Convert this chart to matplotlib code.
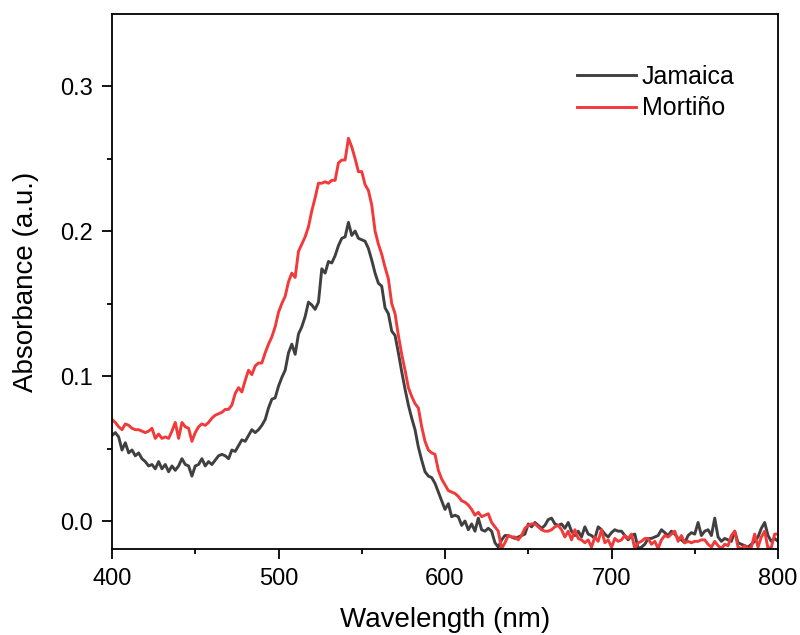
import numpy as np
import matplotlib.pyplot as plt
from matplotlib.ticker import MultipleLocator

plt.rcParams['font.family'] = ['Liberation Sans', 'DejaVu Sans']

wavelength = np.arange(400, 801, 2)

jamaica = [
    0.059, 0.061, 0.058, 0.049, 0.054, 0.047, 0.049, 0.045, 0.047, 0.043,
    0.041, 0.038, 0.039, 0.036, 0.041, 0.036, 0.039, 0.034, 0.038, 0.035,
    0.038, 0.043, 0.039, 0.038, 0.031, 0.038, 0.039, 0.043, 0.038, 0.041,
    0.039, 0.042, 0.045, 0.046, 0.045, 0.043, 0.049, 0.048, 0.052, 0.056,
    0.055, 0.059, 0.063, 0.061, 0.063, 0.066, 0.070, 0.078, 0.084, 0.085,
    0.093, 0.099, 0.104, 0.116, 0.122, 0.115, 0.129, 0.134, 0.141, 0.151,
    0.149, 0.146, 0.151, 0.174, 0.171, 0.179, 0.178, 0.183, 0.190, 0.195,
    0.196, 0.206, 0.197, 0.200, 0.195, 0.194, 0.193, 0.188, 0.180, 0.171,
    0.164, 0.162, 0.147, 0.143, 0.131, 0.128, 0.116, 0.103, 0.091, 0.080,
    0.071, 0.063, 0.051, 0.042, 0.034, 0.031, 0.030, 0.026, 0.020, 0.014,
    0.008, 0.012, 0.003, 0.004, 0.003, -0.003, 0.000, -0.006, -0.002, -0.007,
    0.002, -0.006, -0.007, -0.005, -0.007, -0.015, -0.018, -0.013, -0.010, -0.010,
    -0.011, -0.012, -0.011, -0.010, -0.009, -0.002, -0.004, -0.001, -0.003, -0.005,
    -0.003, 0.001, 0.002, -0.002, -0.003, -0.002, -0.005, -0.001, -0.007, -0.010,
    -0.007, -0.011, -0.004, -0.009, -0.010, -0.012, -0.004, -0.006, -0.009, -0.011,
    -0.008, -0.006, -0.007, -0.007, -0.010, -0.013, -0.010, -0.009, -0.019, -0.018,
    -0.016, -0.012, -0.012, -0.011, -0.010, -0.006, -0.008, -0.010, -0.007, -0.009,
    -0.012, -0.013, -0.015, -0.010, -0.008, -0.009, -0.001, -0.010, -0.007, -0.006,
    -0.010, 0.002, -0.011, -0.014, -0.012, -0.013, -0.014, -0.007, -0.015, -0.016,
    -0.017, -0.018, -0.016, -0.014, -0.011, -0.005, -0.001, -0.010, -0.014, -0.012,
    -0.014,
]

mortino = [
    0.070, 0.068, 0.065, 0.063, 0.067, 0.066, 0.064, 0.063, 0.063, 0.062,
    0.061, 0.062, 0.064, 0.057, 0.060, 0.057, 0.058, 0.057, 0.062, 0.068,
    0.057, 0.068, 0.065, 0.064, 0.055, 0.061, 0.065, 0.067, 0.066, 0.068,
    0.071, 0.073, 0.074, 0.075, 0.077, 0.077, 0.080, 0.088, 0.092, 0.089,
    0.097, 0.104, 0.101, 0.107, 0.109, 0.109, 0.116, 0.122, 0.127, 0.134,
    0.144, 0.150, 0.155, 0.165, 0.171, 0.168, 0.186, 0.191, 0.196, 0.203,
    0.214, 0.223, 0.233, 0.233, 0.234, 0.233, 0.235, 0.235, 0.247, 0.249,
    0.249, 0.264, 0.258, 0.250, 0.241, 0.241, 0.232, 0.228, 0.218, 0.200,
    0.191, 0.184, 0.175, 0.167, 0.150, 0.143, 0.128, 0.115, 0.104, 0.092,
    0.086, 0.081, 0.078, 0.065, 0.055, 0.049, 0.047, 0.046, 0.035, 0.029,
    0.025, 0.021, 0.020, 0.019, 0.017, 0.014, 0.013, 0.011, 0.008, 0.004,
    0.006, 0.003, 0.004, 0.005, -0.001, -0.004, -0.007, -0.019, -0.015, -0.010,
    -0.011, -0.011, -0.013, -0.010, -0.005, -0.003, -0.002, -0.002, -0.004, -0.006,
    -0.007, -0.007, -0.006, -0.004, -0.003, -0.006, -0.011, -0.007, -0.013, -0.006,
    -0.012, -0.013, -0.015, -0.013, -0.018, -0.011, -0.014, -0.006, -0.015, -0.013,
    -0.018, -0.012, -0.014, -0.013, -0.010, -0.012, -0.009, -0.019, -0.015, -0.014,
    -0.012, -0.012, -0.016, -0.014, -0.019, -0.013, -0.010, -0.011, -0.009, -0.007,
    -0.014, -0.010, -0.015, -0.014, -0.015, -0.014, -0.014, -0.013, -0.013, -0.016,
    -0.018, -0.014, -0.017, -0.019, -0.016, -0.017, -0.010, -0.007, -0.018, -0.019,
    -0.017, -0.019, -0.018, -0.009, -0.018, -0.011, -0.007, -0.019, -0.018, -0.009,
    -0.009,
]

fig = plt.figure(figsize=(8, 6.35), dpi=100)
ax = fig.add_axes([0.14, 0.1354, 0.8325, 0.8425])

ax.plot(wavelength, jamaica, color='#404040', lw=2.1, label='Jamaica')
ax.plot(wavelength, mortino, color='#f23a3a', lw=2.1, label='Mortiño')

ax.set_xlim(400, 800)
ax.set_ylim(-0.0193, 0.3497)
ax.xaxis.set_major_locator(MultipleLocator(100))
ax.xaxis.set_minor_locator(MultipleLocator(50))
ax.yaxis.set_major_locator(MultipleLocator(0.1))
ax.yaxis.set_minor_locator(MultipleLocator(0.05))
ax.yaxis.set_major_formatter(plt.FormatStrFormatter('%.1f'))

ax.tick_params(which='major', direction='out', length=7, width=1.3, labelsize=17, pad=7)
ax.tick_params(which='minor', direction='out', length=3.5, width=1.3)
for s in ax.spines.values():
    s.set_linewidth(1.3)

ax.set_xlabel('Wavelength (nm)', fontsize=20, labelpad=12)
ax.set_ylabel('Absorbance (a.u.)', fontsize=20, labelpad=15)

ax.legend(loc='upper left', bbox_to_anchor=(0.698, 0.905), frameon=False,
          fontsize=18, handlelength=2.35, handletextpad=0.25, labelspacing=0.3,
          borderpad=0, borderaxespad=0)

fig.savefig('out.png', dpi=100)
